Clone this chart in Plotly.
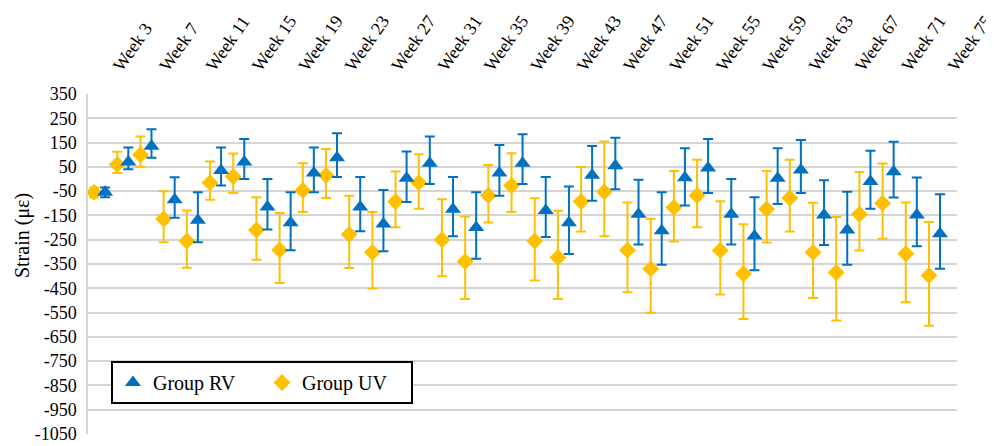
import plotly.graph_objects as go

weeks = ["Week 3", "Week 5", "Week 7", "Week 9", "Week 11", "Week 13", "Week 15", "Week 17",
         "Week 19", "Week 21", "Week 23", "Week 25", "Week 27", "Week 29", "Week 31", "Week 33",
         "Week 35", "Week 37", "Week 39", "Week 41", "Week 43", "Week 45", "Week 47", "Week 49",
         "Week 51", "Week 53", "Week 55", "Week 57", "Week 59", "Week 61", "Week 63", "Week 65",
         "Week 67", "Week 69", "Week 71", "Week 73", "Week 75"]
week_labels = weeks[::2]

rv_mean = [-55, 70, 135, -85, -170, 35, 70, -115, -180, 25, 88, -115, -185, 3, 65, -125, -200, 25, 65,
           -130, -180, 15, 55, -145, -213, 5, 45, -145, -235, 3, 37, -148, -210, -10, 30, -148, -225]
rv_hi = [-35, 130, 205, 7, -55, 130, 165, 0, -55, 130, 188, 8, -45, 113, 175, 8, -55, 140, 184,
         8, -31, 136, 170, -3, -55, 127, 165, 0, -75, 127, 161, -5, -53, 116, 153, 6, -63]
rv_lo = [-75, 40, 88, -160, -260, -27, 0, -208, -293, -55, 8, -215, -298, -95, -21, -236, -328, -69, -21,
         -239, -309, -90, -42, -270, -353, -109, -58, -270, -376, -103, -58, -272, -353, -122, -76, -277, -370]

uv_mean = [-55, 60, 100, -165, -255, -15, 10, -210, -292, -47, 15, -228, -302, -93, -15, -250, -340, -68, -27,
           -255, -323, -93, -53, -293, -370, -117, -68, -294, -390, -124, -78, -302, -385, -145, -100, -308, -397]
uv_hi = [-35, 112, 175, -50, -130, 72, 105, -75, -140, 65, 124, -69, -136, 31, 102, -83, -154, 58, 106,
         -79, -131, 49, 154, -97, -164, 33, 79, -92, -186, 33, 79, -98, -156, 29, 64, -97, -177]
uv_lo = [-75, 25, 50, -260, -365, -85, -58, -332, -428, -136, -78, -366, -451, -199, -122, -400, -494, -179, -136,
         -418, -494, -216, -236, -466, -551, -257, -199, -476, -576, -261, -216, -490, -583, -294, -246, -507, -604]

y_ticks = [350, 250, 150, 50, -50, -150, -250, -350, -450, -550, -650, -750, -850, -950, -1050]

BLUE = "#0070C0"
GOLD = "#FFC000"
FONT = "Liberation Serif, Times New Roman, serif"

fig = go.Figure()

fig.add_trace(go.Scatter(
    x=weeks, y=uv_mean, mode="markers", name="Group UV",
    marker=dict(symbol="diamond", size=13, color=GOLD),
    error_y=dict(type="data", symmetric=False,
                 array=[h - m for h, m in zip(uv_hi, uv_mean)],
                 arrayminus=[m - l for m, l in zip(uv_mean, uv_lo)],
                 color=GOLD, thickness=2, width=5),
    legendrank=2,
))
fig.add_trace(go.Scatter(
    x=weeks, y=rv_mean, mode="markers", name="Group RV",
    marker=dict(symbol="triangle-up", size=14, color=BLUE),
    error_y=dict(type="data", symmetric=False,
                 array=[h - m for h, m in zip(rv_hi, rv_mean)],
                 arrayminus=[m - l for m, l in zip(rv_mean, rv_lo)],
                 color=BLUE, thickness=2, width=5),
    legendrank=1,
))

xr = [-0.5, 36.97]

fig.update_layout(
    width=986, height=438,
    margin=dict(l=80, r=37, t=86, b=12, autoexpand=False),
    paper_bgcolor="white", plot_bgcolor="white",
    font=dict(family=FONT, size=18, color="black"),
    scattermode="group", scattergap=0.05,
    xaxis=dict(
        type="category", categoryorder="array", categoryarray=weeks,
        range=xr, side="top", tickmode="array", tickvals=week_labels, ticktext=week_labels,
        tickangle=-55, showgrid=False, showline=False, ticks="", zeroline=False, automargin=False,
        tickfont=dict(family=FONT, size=18), ticklabelstandoff=13, ticklabelshift=15,
    ),
    xaxis2=dict(
        overlaying="x", anchor="free", position=0.75, side="bottom",
        range=xr, type="linear", tickmode="linear", tick0=-0.5, dtick=0.5,
        ticks="outside", ticklen=5, tickcolor="#bfbfbf", tickwidth=1,
        showline=True, linecolor="#d0d0d0", linewidth=1.5,
        showticklabels=False, showgrid=False, zeroline=False, automargin=False,
    ),
    yaxis=dict(
        range=[-1050, 350], tickmode="array", tickvals=y_ticks, ticktext=[str(v) for v in y_ticks],
        showgrid=True, gridcolor="#d4d4d4", gridwidth=1.5, zeroline=False,
        showline=True, linecolor="#d4d4d4", linewidth=1.5, automargin=False,
        ticks="", tickfont=dict(family=FONT, size=18), ticklabelstandoff=6,
    ),
    showlegend=True,
    legend=dict(
        orientation="h", x=0.0264, y=0.2147, xanchor="left", yanchor="top",
        bordercolor="black", borderwidth=2, bgcolor="white",
        font=dict(family=FONT, size=20), entrywidth=104, entrywidthmode="pixels",
        itemclick=False,
    ),
    annotations=[dict(
        text="Strain (με)", xref="paper", yref="paper", x=-0.076, y=0.585,
        xanchor="center", yanchor="middle", textangle=-90, showarrow=False,
        font=dict(family=FONT, size=20),
    )],
)

fig.write_html("out.html")
